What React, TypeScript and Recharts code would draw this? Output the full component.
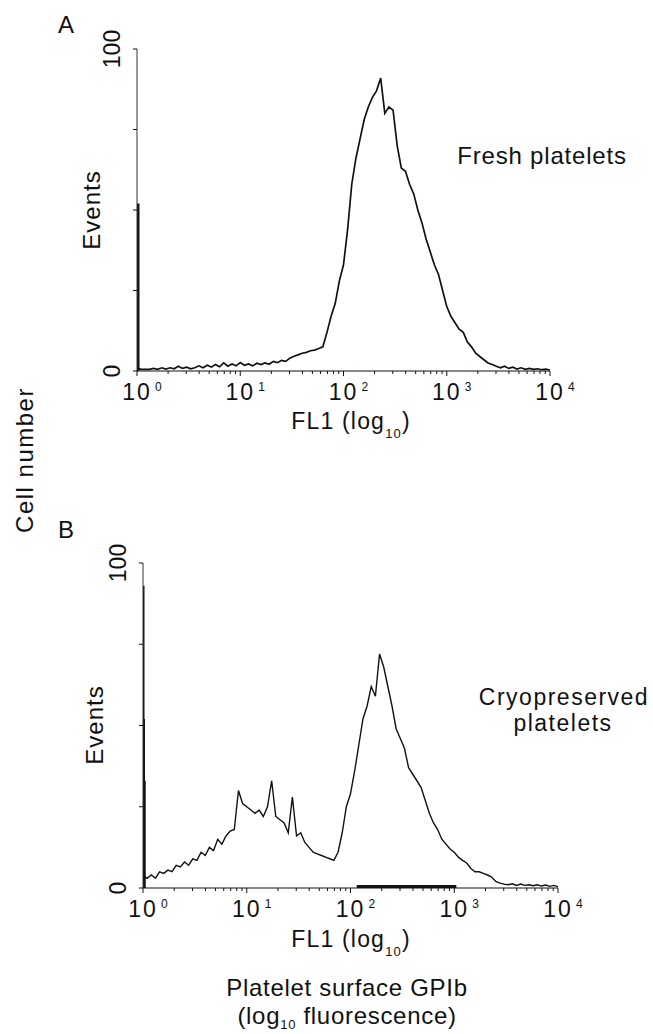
import React from 'react';
import { LineChart, Line, XAxis, YAxis } from 'recharts';

// histogram counts, one per channel; a channel is 0.04 decade wide (10^0 .. 10^4)
const BIN = 0.04;

const countsFresh = [
  1, 0.5, 0.5, 0.5, 0.8, 0.5, 1, 0.6, 1, 0.7,
  1.5, 0.8, 1.2, 0.7, 1, 1.6, 1, 1.8, 1.2, 2,
  1.3, 2.5, 1.5, 2.2, 1.6, 2.6, 1.8, 2.2, 1.6, 2.4,
  2, 2.5, 2.1, 3, 2.6, 3.3, 3, 4, 4.6, 5,
  5.5, 5.8, 6.3, 6.5, 7, 7.5, 12, 17, 21, 28,
  33, 44, 58, 66, 72, 78, 82, 85, 87, 91,
  80, 82, 81, 70, 63, 62, 58, 55, 50, 46,
  41, 37, 33, 30, 25, 20, 17, 15, 13, 12,
  9, 7.5, 5.5, 4.5, 3.5, 2.5, 2, 1.5, 1, 1.5,
  0.8, 1.2, 0.6, 1, 0.5, 0.8, 0.5, 0.7, 0.4, 0.6,
  0.3,
];

const countsCryo = [
  4, 3, 4, 3, 5, 4.5, 5.5, 5, 7, 6.5,
  8, 7, 9, 8.5, 11, 10, 12.5, 11.5, 15, 13.5,
  16, 17.5, 18, 30, 26, 25, 24, 23, 24, 22,
  25, 33, 22, 21, 20, 17, 28, 16, 17, 14,
  12.5, 11, 10.5, 10, 9.5, 9, 8.5, 11, 17, 25,
  29, 36, 44, 52, 56, 62, 59, 72, 68, 62,
  56, 49, 46, 43, 37, 35, 33, 31, 27, 23,
  20, 18, 15, 13.5, 12, 11, 9.5, 8.5, 7.7, 6,
  5, 5, 4.5, 4, 3.4, 2, 1.5, 1.2, 1, 1.3,
  0.8, 1.2, 0.8, 1, 0.7, 1, 0.6, 0.9, 0.5, 0.8,
  0.4,
];

// events piled up in the first channel (drawn along the y axis)
const spikeFresh = [52];
const spikeCryo = [93, 52, 33];
// marker bar on the cryo x axis, in log10 units
const gateCryo = [2.06, 3.02];

const decades = [0, 1, 2, 3, 4];
const decadeExp = ['0', '1', '2', '3', '4'];
const minorInDecade = [0.301, 0.477, 0.602, 0.699, 0.778, 0.845, 0.903, 0.954];
const yTicks = [0, 25, 50, 75, 100];
const yLabelled = [0, 100];

const FONT = '"Liberation Sans", Arial, Helvetica, sans-serif';
const INK = '#111';

const toRows = (counts: number[]) => counts.map((c, i) => ({ x: i * BIN, y: c }));

const xTickValues = decades.concat(
  decades.slice(0, 4).flatMap((d) => minorInDecade.map((m) => d + m)),
);

const XTick = (props: any) => {
  const { x, y, payload } = props;
  const v = payload.value;
  const idx = decades.indexOf(v);
  const major = idx >= 0;
  return (
    <g>
      <line x1={x} x2={x} y1={y} y2={y + (major ? 5 : 3)} stroke={INK} strokeWidth={1} />
      {major && (
        <>
          <text x={x} y={y + 29} textAnchor="middle" fontSize={23} letterSpacing={2} fill={INK} fontFamily={FONT}>
            10
          </text>
          <text x={x + 18} y={y + 20} fontSize={12} fill={INK} fontFamily={FONT}>
            {decadeExp[idx]}
          </text>
        </>
      )}
    </g>
  );
};

const YTick = (props: any) => {
  const { x, y, payload } = props;
  const v = payload.value;
  const bx = x - 17;
  return (
    <g>
      <line x1={x - 4} x2={x} y1={y} y2={y} stroke={INK} strokeWidth={1} />
      {yLabelled.includes(v) && (
        <text
          x={bx}
          y={y}
          transform={`rotate(-90 ${bx} ${y})`}
          textAnchor="middle"
          fontSize={23}
          fill={INK}
          fontFamily={FONT}
        >
          {v}
        </text>
      )}
    </g>
  );
};

type PanelProps = {
  counts: number[];
  spikes: number[];
  spikeWidths: number[];
  gate?: number[];
  top: number;
  height: number;
  margin: { top: number; right: number; bottom: number; left: number };
  lineWidth: number;
};

function Histogram({ counts, spikes, spikeWidths, gate, top, height, margin, lineWidth }: PanelProps) {
  const rows = toRows(counts);
  return (
    <div style={{ position: 'absolute', left: 0, top, width: 653, height }}>
      <LineChart width={653} height={height} data={rows} margin={margin}>
        <XAxis
          type="number"
          dataKey="x"
          domain={[0, 4]}
          ticks={xTickValues}
          interval={0}
          tick={<XTick />}
          tickSize={0}
          tickMargin={0}
          height={30}
          stroke={INK}
          allowDataOverflow
        />
        <YAxis
          type="number"
          domain={[0, 100]}
          ticks={yTicks}
          interval={0}
          tick={<YTick />}
          tickSize={0}
          tickMargin={0}
          width={30}
          stroke="#333"
          allowDataOverflow
        />
        <Line
          type="linear"
          dataKey="y"
          stroke={INK}
          strokeWidth={lineWidth}
          dot={false}
          activeDot={false}
          isAnimationActive={false}
        />
        {spikes.map((s, i) => (
          <Line
            key={i}
            data={[
              { x: 0, y: 0 },
              { x: 0, y: s },
            ]}
            dataKey="y"
            stroke={INK}
            strokeWidth={spikeWidths[i]}
            dot={false}
            activeDot={false}
            isAnimationActive={false}
          />
        ))}
        {gate && (
          <Line
            data={gate.map((g) => ({ x: g, y: 0.5 }))}
            dataKey="y"
            stroke={INK}
            strokeWidth={3}
            dot={false}
            activeDot={false}
            isAnimationActive={false}
          />
        )}
      </LineChart>
    </div>
  );
}

const Sub = ({ children, drop }: { children: string; drop: number }) => (
  <tspan dy={drop} fontSize={13}>
    {children}
  </tspan>
);

export default function App() {
  const txt = { fill: INK, fontFamily: FONT } as const;
  return (
    <div style={{ position: 'absolute', left: 0, top: 0, width: 653, height: 1034, background: '#fff', overflow: 'hidden' }}>
      <Histogram
        counts={countsFresh}
        spikes={spikeFresh}
        spikeWidths={[5]}
        top={0}
        height={420}
        margin={{ top: 49, right: 103, bottom: 19, left: 107 }}
        lineWidth={1.7}
      />
      <Histogram
        counts={countsCryo}
        spikes={spikeCryo}
        spikeWidths={[3, 4, 5.5]}
        gate={gateCryo}
        top={500}
        height={440}
        margin={{ top: 63, right: 95, bottom: 22, left: 113 }}
        lineWidth={1.4}
      />
      <svg width={653} height={1034} style={{ position: 'absolute', left: 0, top: 0, pointerEvents: 'none' }}>
        <text x={58} y={33} fontSize={24} {...txt}>A</text>
        <text x={58} y={538} fontSize={24} {...txt}>B</text>

        <text x={33} y={460} fontSize={24} letterSpacing={1.5} textAnchor="middle" transform="rotate(-90 33 460)" {...txt}>
          Cell number
        </text>
        <text x={100} y={210} fontSize={24} letterSpacing={1} textAnchor="middle" transform="rotate(-90 100 210)" {...txt}>
          Events
        </text>
        <text x={103} y={725} fontSize={24} letterSpacing={1} textAnchor="middle" transform="rotate(-90 103 725)" {...txt}>
          Events
        </text>

        <text x={351} y={429} fontSize={23} letterSpacing={1.2} textAnchor="middle" {...txt}>
          FL1 (log<Sub drop={9}>10</Sub>
          <tspan dy={-9}>)</tspan>
        </text>
        <text x={351} y={947} fontSize={23} letterSpacing={1.2} textAnchor="middle" {...txt}>
          FL1 (log<Sub drop={9}>10</Sub>
          <tspan dy={-9}>)</tspan>
        </text>

        <text x={542} y={164} fontSize={24} letterSpacing={0.8} textAnchor="middle" {...txt}>
          Fresh platelets
        </text>
        <text x={564} y={705} fontSize={23} letterSpacing={1.5} textAnchor="middle" {...txt}>
          Cryopreserved
        </text>
        <text x={563} y={731} fontSize={23} letterSpacing={1.5} textAnchor="middle" {...txt}>
          platelets
        </text>

        <text x={347} y={996} fontSize={24} letterSpacing={0.7} textAnchor="middle" {...txt}>
          Platelet surface GPIb
        </text>
        <text x={347} y={1024} fontSize={24} letterSpacing={0.7} textAnchor="middle" {...txt}>
          (log<Sub drop={5}>10</Sub>
          <tspan dy={-5}> fluorescence)</tspan>
        </text>
      </svg>
    </div>
  );
}
